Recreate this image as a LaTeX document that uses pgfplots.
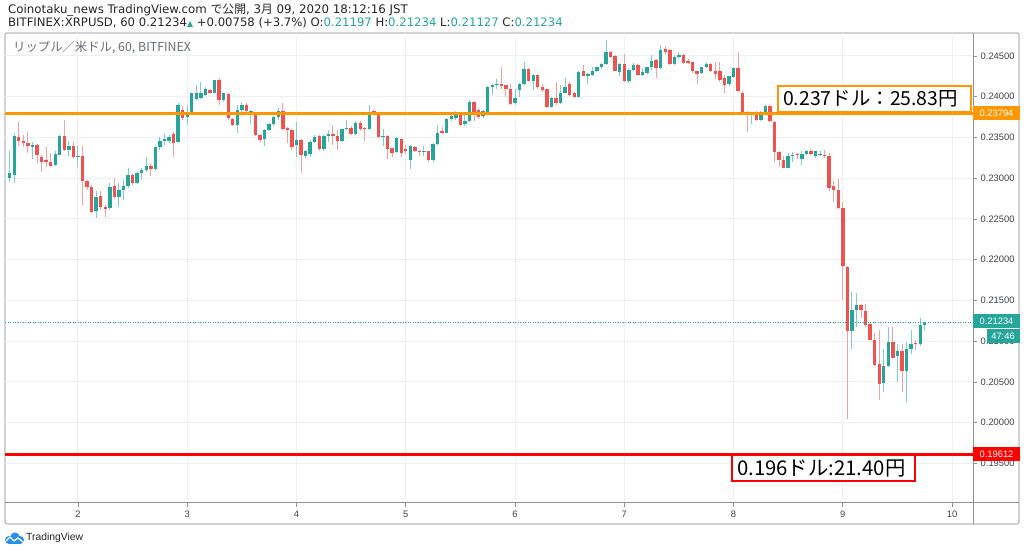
\documentclass[border=0pt]{standalone}
\usepackage{pgfplots}
\pgfplotsset{compat=1.18}
\usepackage{pgfplotstable}
\usepackage{fontspec}
\setmainfont{Liberation Sans}
\newfontfamily\cjk{Noto Sans CJK JP}
\newfontfamily\dvs{DejaVu Sans}
\definecolor{tvgreen}{HTML}{26A69A}
\definecolor{tvred}{HTML}{EF5350}
\definecolor{wickgreen}{HTML}{80CEC6}
\definecolor{wickred}{HTML}{F5A09E}
\definecolor{gridc}{HTML}{EDF0F5}
\definecolor{framec}{HTML}{B8BBC2}
\definecolor{sepc}{HTML}{8F929A}
\definecolor{tvorange}{HTML}{FF9800}
\definecolor{txtgray}{HTML}{3E4148}
\definecolor{lgdgray}{HTML}{6A6D78}
\definecolor{logoc}{HTML}{2A8FE8}

\pgfplotstableread{
n o h l c
0 0.2300 0.2333 0.2295 0.2306
1 0.2304 0.2355 0.2294 0.2352
2 0.2350 0.2369 0.2339 0.2346
3 0.2346 0.2353 0.2338 0.2343
4 0.2343 0.2357 0.2331 0.2340
5 0.2338 0.2345 0.2324 0.2341
6 0.2341 0.2342 0.2318 0.2328
7 0.2326 0.2328 0.2308 0.2320
8 0.2322 0.2338 0.2314 0.2320
9 0.2320 0.2331 0.2314 0.2315
10 0.2316 0.2334 0.2315 0.2330
11 0.2329 0.2353 0.2328 0.2352
12 0.2352 0.2371 0.2334 0.2335
13 0.2335 0.2346 0.2327 0.2339
14 0.2340 0.2344 0.2323 0.2326
15 0.2326 0.2339 0.2314 0.2327
16 0.2327 0.2339 0.2267 0.2297
17 0.2297 0.2298 0.2286 0.2289
18 0.2289 0.2292 0.2257 0.2259
19 0.2260 0.2284 0.2251 0.2277
20 0.2278 0.2284 0.2261 0.2265
21 0.2265 0.2267 0.2253 0.2262
22 0.2263 0.2294 0.2261 0.2289
23 0.2290 0.2300 0.2275 0.2277
24 0.2277 0.2294 0.2265 0.2286
25 0.2286 0.2298 0.2273 0.2290
26 0.2290 0.2312 0.2288 0.2304
27 0.2304 0.2305 0.2292 0.2294
28 0.2294 0.2308 0.2293 0.2306
29 0.2306 0.2312 0.2298 0.2310
30 0.2310 0.2326 0.2308 0.2315
31 0.2315 0.2319 0.2303 0.2311
32 0.2311 0.2339 0.2310 0.2338
33 0.2338 0.2351 0.2335 0.2346
34 0.2346 0.2354 0.2341 0.2348
35 0.2346 0.2353 0.2343 0.2350
36 0.2354 0.2357 0.2326 0.2343
37 0.2344 0.2392 0.2343 0.2390
38 0.2384 0.2389 0.2372 0.2374
39 0.2375 0.2390 0.2365 0.2380
40 0.2381 0.2405 0.2380 0.2404
41 0.2397 0.2414 0.2396 0.2405
42 0.2398 0.2418 0.2397 0.2404
43 0.2402 0.2412 0.2401 0.2410
44 0.2408 0.2410 0.2404 0.2405
45 0.2405 0.2421 0.2404 0.2420
46 0.2420 0.2423 0.2390 0.2396
47 0.2396 0.2405 0.2393 0.2404
48 0.2403 0.2404 0.2372 0.2374
49 0.2373 0.2374 0.2364 0.2365
50 0.2365 0.2390 0.2355 0.2384
51 0.2384 0.2394 0.2376 0.2390
52 0.2390 0.2392 0.2378 0.2382
53 0.2381 0.2384 0.2367 0.2383
54 0.2378 0.2378 0.2352 0.2353
55 0.2353 0.2354 0.2343 0.2347
56 0.2348 0.2360 0.2340 0.2359
57 0.2359 0.2368 0.2358 0.2367
58 0.2367 0.2376 0.2364 0.2375
59 0.2375 0.2386 0.2371 0.2383
60 0.2383 0.2392 0.2359 0.2360
61 0.2362 0.2363 0.2343 0.2359
62 0.2359 0.2361 0.2335 0.2338
63 0.2341 0.2369 0.2326 0.2347
64 0.2347 0.2348 0.2306 0.2329
65 0.2327 0.2335 0.2325 0.2333
66 0.2330 0.2347 0.2326 0.2345
67 0.2345 0.2353 0.2343 0.2351
68 0.2352 0.2353 0.2334 0.2336
69 0.2336 0.2353 0.2334 0.2352
70 0.2352 0.2359 0.2345 0.2354
71 0.2354 0.2365 0.2341 0.2352
72 0.2352 0.2359 0.2335 0.2346
73 0.2346 0.2361 0.2345 0.2360
74 0.2360 0.2372 0.2359 0.2362
75 0.2362 0.2364 0.2353 0.2354
76 0.2354 0.2370 0.2353 0.2368
77 0.2368 0.2370 0.2358 0.2360
78 0.2362 0.2363 0.2346 0.2360
79 0.2360 0.2390 0.2359 0.2378
80 0.2382 0.2384 0.2378 0.2380
81 0.2377 0.2378 0.2349 0.2350
82 0.2350 0.2361 0.2339 0.2351
83 0.2352 0.2353 0.2323 0.2336
84 0.2337 0.2337 0.2326 0.2331
85 0.2332 0.2350 0.2331 0.2349
86 0.2348 0.2349 0.2326 0.2331
87 0.2336 0.2341 0.2330 0.2333
88 0.2322 0.2341 0.2311 0.2339
89 0.2338 0.2340 0.2332 0.2334
90 0.2334 0.2335 0.2327 0.2332
91 0.2332 0.2340 0.2327 0.2333
92 0.2333 0.2334 0.2320 0.2322
93 0.2322 0.2343 0.2320 0.2342
94 0.2342 0.2365 0.2341 0.2355
95 0.2358 0.2363 0.2354 0.2356
96 0.2356 0.2374 0.2355 0.2373
97 0.2373 0.2380 0.2370 0.2376
98 0.2374 0.2383 0.2372 0.2378
99 0.2378 0.2379 0.2364 0.2365
100 0.2366 0.2378 0.2364 0.2370
101 0.2370 0.2396 0.2369 0.2393
102 0.2393 0.2395 0.2370 0.2378
103 0.2384 0.2386 0.2373 0.2375
104 0.2376 0.2384 0.2374 0.2382
105 0.2380 0.2413 0.2379 0.2412
106 0.2412 0.2416 0.2402 0.2414
107 0.2414 0.2422 0.2410 0.2416
108 0.2416 0.2437 0.2410 0.2413
109 0.2414 0.2414 0.2400 0.2410
110 0.2409 0.2416 0.2390 0.2391
111 0.2392 0.2410 0.2390 0.2399
112 0.2408 0.2417 0.2400 0.2415
113 0.2415 0.2442 0.2414 0.2434
114 0.2434 0.2435 0.2418 0.2419
115 0.2419 0.2428 0.2408 0.2427
116 0.2427 0.2428 0.2410 0.2412
117 0.2412 0.2415 0.2406 0.2408
118 0.2409 0.2410 0.2386 0.2387
119 0.2387 0.2400 0.2386 0.2399
120 0.2399 0.2418 0.2390 0.2392
121 0.2392 0.2414 0.2391 0.2405
122 0.2405 0.2423 0.2404 0.2412
123 0.2415 0.2418 0.2401 0.2402
124 0.2405 0.2406 0.2398 0.2400
125 0.2400 0.2431 0.2399 0.2430
126 0.2431 0.2439 0.2425 0.2426
127 0.2426 0.2429 0.2416 0.2428
128 0.2427 0.2437 0.2426 0.2432
129 0.2432 0.2437 0.2430 0.2436
130 0.2436 0.2441 0.2434 0.2440
131 0.2440 0.2470 0.2439 0.2455
132 0.2455 0.2456 0.2448 0.2449
133 0.2450 0.2451 0.2431 0.2432
134 0.2430 0.2441 0.2425 0.2440
135 0.2440 0.2452 0.2418 0.2419
136 0.2419 0.2434 0.2417 0.2433
137 0.2433 0.2441 0.2431 0.2439
138 0.2439 0.2440 0.2425 0.2427
139 0.2427 0.2435 0.2425 0.2430
140 0.2429 0.2437 0.2428 0.2436
141 0.2436 0.2451 0.2433 0.2444
142 0.2445 0.2446 0.2423 0.2435
143 0.2435 0.2464 0.2434 0.2457
144 0.2458 0.2462 0.2452 0.2455
145 0.2457 0.2459 0.2439 0.2440
146 0.2440 0.2451 0.2439 0.2449
147 0.2449 0.2455 0.2447 0.2451
148 0.2451 0.2452 0.2440 0.2441
149 0.2444 0.2446 0.2440 0.2441
150 0.2443 0.2443 0.2429 0.2431
151 0.2431 0.2432 0.2416 0.2428
152 0.2429 0.2437 0.2428 0.2436
153 0.2436 0.2443 0.2435 0.2440
154 0.2440 0.2441 0.2430 0.2432
155 0.2432 0.2443 0.2422 0.2428
156 0.2431 0.2443 0.2418 0.2421
157 0.2423 0.2427 0.2405 0.2414
158 0.2415 0.2426 0.2413 0.2425
159 0.2424 0.2436 0.2423 0.2435
160 0.2435 0.2455 0.2406 0.2407
161 0.2405 0.2407 0.2378 0.2380
162 0.2381 0.2382 0.2357 0.2378
163 0.2377 0.2381 0.2367 0.2380
164 0.2379 0.2382 0.2370 0.2371
165 0.2371 0.2382 0.2370 0.2380
166 0.2380 0.2390 0.2378 0.2388
167 0.2388 0.2390 0.2369 0.2370
168 0.2369 0.2370 0.2320 0.2332
169 0.2332 0.2333 0.2314 0.2322
170 0.2322 0.2327 0.2312 0.2313
171 0.2313 0.2331 0.2312 0.2327
172 0.2327 0.2332 0.2320 0.2329
173 0.2329 0.2331 0.2323 0.2328
174 0.2324 0.2333 0.2316 0.2330
175 0.2330 0.2335 0.2328 0.2333
176 0.2333 0.2336 0.2328 0.2330
177 0.2327 0.2334 0.2325 0.2333
178 0.2328 0.2333 0.2327 0.2329
179 0.2328 0.2335 0.2325 0.2327
180 0.2327 0.2331 0.2284 0.2288
181 0.2290 0.2297 0.2271 0.2285
182 0.2285 0.2299 0.2262 0.2263
183 0.2263 0.2271 0.2151 0.2192
184 0.2191 0.2192 0.2004 0.2112
185 0.2112 0.2160 0.2090 0.2138
186 0.2138 0.2159 0.2118 0.2144
187 0.2145 0.2146 0.2128 0.2138
188 0.2137 0.2146 0.2118 0.2120
189 0.2121 0.2122 0.2101 0.2102
190 0.2102 0.2110 0.2069 0.2071
191 0.2072 0.2114 0.2028 0.2048
192 0.2049 0.2090 0.2038 0.2070
193 0.2069 0.2118 0.2068 0.2099
194 0.2099 0.2118 0.2079 0.2080
195 0.2082 0.2097 0.2050 0.2088
196 0.2088 0.2097 0.2038 0.2063
197 0.2063 0.2099 0.2025 0.2090
198 0.2090 0.2114 0.2084 0.2097
199 0.2097 0.2102 0.2089 0.2096
200 0.2096 0.2128 0.2094 0.2120
201 0.21197 0.21234 0.21127 0.21234
}\candles

\begin{document}
\begin{tikzpicture}[x=1bp,y=1bp]
\path[use as bounding box] (0,0) rectangle (1024,552);
\fill[white] (0,0) rectangle (1024,552);
% outer frame
\draw[framec, line width=1.2bp, rounded corners=2bp] (5,28) rectangle (1019,519);
\begin{axis}[
  at={(5bp,49bp)}, anchor=south west, scale only axis,
  width=968bp, height=470bp,
  xmin=-1.03, xmax=211.6, ymin=0.19015, ymax=0.24782,
  axis line style={draw=none},
  xtick={15,39,63,87,111,135,159,183,207},
  xticklabels={2,3,4,5,6,7,8,9,10},
  ytick={0.195,0.2,0.205,0.21,0.215,0.22,0.225,0.23,0.235,0.24,0.245},
  scaled y ticks=false,
  xtick pos=bottom, ytick pos=right, yticklabel pos=right,
  tick align=outside, major tick length=4bp,
  tick style={sepc, line width=0.8bp},
  grid=major, major grid style={gridc, line width=1bp},
  tick label style={font=\fontsize{9.4}{10}\selectfont, text=txtgray},
  /pgf/number format/assume math mode=true,
  yticklabel style={/pgf/number format/.cd, fixed, fixed zerofill, precision=5, /tikz/.cd, anchor=west, inner sep=0pt, xshift=3.5bp},
  xticklabel style={anchor=north, inner sep=0pt, yshift=-3.5bp},
]
% wicks
\addplot[draw=none, mark=none, forget plot, error bars/.cd, y dir=plus, y explicit, error mark=none,
  error bar style={draw=wickgreen, line width=1bp, solid}]
  table[x=n, y expr={(\thisrow{c}>=\thisrow{o}) ? \thisrow{l} : nan}, y error expr={\thisrow{h}-\thisrow{l}}] {\candles};
\addplot[draw=none, mark=none, forget plot, error bars/.cd, y dir=plus, y explicit, error mark=none,
  error bar style={draw=wickred, line width=1bp, solid}]
  table[x=n, y expr={(\thisrow{c}<\thisrow{o}) ? \thisrow{l} : nan}, y error expr={\thisrow{h}-\thisrow{l}}] {\candles};
% bodies
\addplot[draw=none, mark=none, forget plot, error bars/.cd, y dir=plus, y explicit, error mark=none,
  error bar style={draw=tvgreen, line width=3.4bp, solid}]
  table[x=n, y expr={(\thisrow{c}>=\thisrow{o}) ? \thisrow{o} : nan}, y error expr={max(\thisrow{c}-\thisrow{o},0.00012)}] {\candles};
\addplot[draw=none, mark=none, forget plot, error bars/.cd, y dir=plus, y explicit, error mark=none,
  error bar style={draw=tvred, line width=3.4bp, solid}]
  table[x=n, y expr={(\thisrow{c}<\thisrow{o}) ? \thisrow{c} : nan}, y error expr={max(\thisrow{o}-\thisrow{c},0.00012)}] {\candles};
% horizontal levels
\addplot[tvgreen, line width=1bp, dash pattern=on 1bp off 1.5bp, forget plot] coordinates {(-1.03,0.21234) (211.6,0.21234)};
\addplot[tvorange, line width=3bp, forget plot] coordinates {(-1.03,0.23794) (211.6,0.23794)};
\addplot[red, line width=3bp, forget plot] coordinates {(-1.03,0.19612) (211.6,0.19612)};
\end{axis}
% separators
\draw[sepc, line width=1bp] (973,28) -- (973,519);
\draw[sepc, line width=1bp] (5,49) -- (1019,49);
% right price labels
\node[fill=tvorange, text=white, minimum width=47bp, minimum height=14bp, inner sep=0pt, font=\fontsize{9.4}{10}\selectfont] at (996.5,439) {0.23794};
\node[fill=tvgreen, text=white, minimum width=47bp, minimum height=14bp, inner sep=0pt, font=\fontsize{9.4}{10}\selectfont] at (996.5,231) {0.21234};
\node[fill=tvgreen, text=white, minimum width=33bp, minimum height=14bp, inner sep=0pt, font=\fontsize{9.4}{10}\selectfont] at (1003,216) {47:46};
\node[fill=red, text=white, minimum width=47bp, minimum height=14bp, inner sep=0pt, font=\fontsize{9.4}{10}\selectfont] at (996.5,98) {0.19612};
% annotation boxes
\draw[tvorange, line width=1.5bp, fill=white] (778,466) rectangle (971,440);
\node[anchor=west, inner sep=0pt, font=\cjk\fontsize{19.5}{22}\selectfont] at (783,453) {0.237ドル：25.83円};
\draw[red, line width=1.5bp, fill=white] (732,97) rectangle (915,71);
\node[anchor=west, inner sep=0pt, font=\cjk\fontsize{20.4}{22}\selectfont] at (737,84) {0.196ドル:21.40円};
% header
\node[anchor=base west, inner sep=0pt, font=\dvs\fontsize{11.85}{13}\selectfont, text=black!85] at (8,538) {Coinotaku\_news TradingView.com {\cjk で公開}, 3{\cjk 月} 09, 2020 18:12:16 JST};
\node[anchor=base west, inner sep=0pt, font=\dvs\fontsize{11.7}{13}\selectfont, text=black!85] at (8,525) {BITFINEX:XRPUSD, 60 0.21234{\color{tvgreen}\fontsize{8}{8}\selectfont ▲} +0.00758 (+3.7\%) O:\textcolor{tvgreen}{0.21197} H:\textcolor{tvgreen}{0.21234} L:\textcolor{tvgreen}{0.21127} C:\textcolor{tvgreen}{0.21234}};
% legend
\node[anchor=west, inner sep=0pt, font=\cjk\fontsize{12.4}{14}\selectfont, text=lgdgray] at (13,505) {リップル／米ドル, 60, BITFINEX};
% logo
\fill[logoc] (9,12) circle (4) (15,15) circle (4.6) (20,12) circle (4);
\fill[logoc] (9,8) rectangle (20,12);
\draw[white, line width=1.3bp, line join=round] (6,11) -- (10,15) -- (14,11) -- (18,14) -- (23,10);
\node[anchor=base west, inner sep=0pt, font=\fontsize{10.4}{12}\selectfont, text=black!85] at (26,11) {TradingView};
\end{tikzpicture}
\end{document}
